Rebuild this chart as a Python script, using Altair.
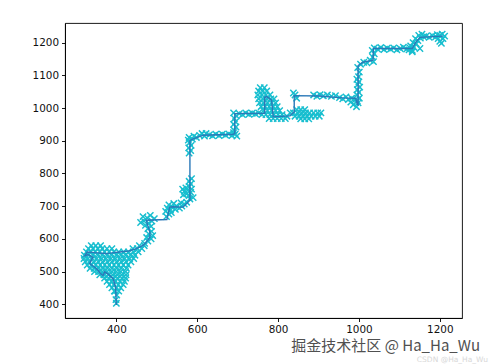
import altair as alt
import pandas as pd

# ---- filtered track (drawn as the line) ----
track_x = [400, 399, 398, 392, 380, 371, 367, 360, 355, 346,
           334, 338, 342, 330, 322, 328, 345, 375, 408, 430,
           450, 466, 474, 483, 483, 478, 474, 525, 532, 540,
           565, 582, 582, 590, 615, 689, 693, 693, 767, 767,
           772, 784, 788, 829, 840, 840, 900, 960, 992, 996,
           998, 998, 1010, 1035, 1036, 1132, 1140, 1151, 1208]
track_y = [398, 430, 453, 478, 492, 499, 488, 495, 504, 514,
           524, 535, 544, 552, 548, 560, 558, 555, 560, 563,
           570, 580, 590, 605, 621, 640, 657, 659, 697, 698,
           697, 718, 901, 906, 917, 920, 922, 983, 984, 1033,
           1035, 1024, 973, 976, 988, 1038, 1037, 1031, 1030, 1012,
           1010, 1130, 1140, 1146, 1182, 1182, 1200, 1216, 1220]

# ---- measurements (x markers) ----
stem_pts = [(400, 403), (399, 414), (401, 428), (397, 440)]

blobA_rows = {
    440: [395, 406],
    450: [389, 400, 411],
    460: [383, 394, 405, 417],
    470: [377, 388, 398, 409, 420],
    480: [371, 381, 392, 403, 414, 423],
    490: [359, 369, 380, 391, 402, 413, 424],
    500: [346, 356, 366, 377, 389, 400, 411, 423],
    510: [335, 345, 356, 367, 378, 389, 401, 412, 425],
    520: [328, 338, 349, 360, 371, 382, 394, 405, 417, 429],
    530: [323, 333, 344, 355, 366, 378, 389, 401, 412, 424, 436],
    540: [320, 330, 341, 352, 364, 375, 387, 398, 410, 421, 433, 443],
    550: [321, 331, 342, 354, 365, 377, 388, 400, 411, 423, 435, 446],
    560: [326, 337, 348, 359, 371, 382, 394, 406, 418, 430, 442, 454],
    570: [331, 342, 354, 365, 377, 389, 441, 452, 463],
    579: [338, 349, 361, 457, 469],
}

tail_pts = [(470, 586), (478, 593), (486, 600), (475, 604), (490, 610),
            (480, 615), (487, 623), (478, 631), (486, 638), (472, 641),
            (480, 648), (468, 655), (488, 654), (476, 664), (466, 668),
            (484, 672), (494, 662), (460, 650)]

c1_pts = [(524, 668), (530, 676), (522, 684), (534, 688), (526, 694),
          (538, 698), (530, 704), (542, 708), (548, 700), (556, 694),
          (562, 700), (568, 706), (574, 712), (560, 710), (546, 690),
          (536, 680)]

c2_pts = [(566, 735), (574, 738), (580, 732), (568, 745), (576, 748),
          (584, 742), (564, 752), (572, 756), (580, 760), (586, 752),
          (584, 768), (580, 776), (586, 784), (582, 722), (590, 726)]

v1_pts = [(580, 862), (584, 870), (579, 878), (585, 886), (581, 894), (578, 902)]

h1_pts = [(580, 910), (588, 905), (592, 914), (598, 910), (606, 916),
          (612, 922), (618, 914), (622, 922), (630, 918), (638, 915),
          (646, 920), (654, 916), (662, 920), (670, 917), (678, 921),
          (686, 916), (694, 920), (698, 914), (690, 925)]

v2_pts = [(691, 932), (696, 942), (690, 950), (695, 958), (692, 968),
          (697, 976), (690, 985)]

h2_pts = [(704, 983), (712, 980), (720, 985), (728, 981), (736, 984),
          (744, 982), (752, 985), (760, 980)]

blobB_rows = {
    1062: [756, 766],
    1052: [752, 762, 772],
    1040: [750, 760, 770, 780],
    1028: [752, 762, 772, 782, 790],
    1016: [754, 764, 774, 784, 794],
    1004: [758, 768, 778, 788, 798],
    992: [764, 774, 784, 794, 804],
    980: [770, 780, 790, 800, 810],
    968: [778, 788, 798, 808, 818],
}

blobC_rows = {
    995: [846, 856, 866],
    985: [830, 838, 848, 858, 868, 878, 888, 898, 906],
    975: [822, 842, 852, 862, 872, 882, 892, 902],
    967: [856, 866, 876],
}

h3_pts = [(842, 1040), (846, 1030), (838, 1046),
          (888, 1040), (896, 1036), (904, 1041), (912, 1037), (922, 1040),
          (932, 1036), (942, 1038), (952, 1032), (960, 1028), (968, 1034),
          (974, 1026), (982, 1030), (990, 1024), (980, 1018), (986, 1010),
          (994, 1004), (998, 1016)]

v3_pts = [(996, 1022), (1001, 1030), (995, 1040), (1000, 1048), (996, 1056),
          (1002, 1064), (997, 1072), (1000, 1080), (995, 1088), (999, 1096),
          (1001, 1110), (997, 1124)]

step_pts = [(1004, 1134), (1012, 1140), (1020, 1138), (1028, 1146),
            (1036, 1142), (1034, 1156), (1038, 1166), (1033, 1176)]

h4_pts = [(1038, 1184), (1046, 1180), (1054, 1185), (1062, 1179), (1070, 1183),
          (1078, 1180), (1086, 1184), (1094, 1178), (1102, 1182), (1110, 1186),
          (1118, 1180), (1126, 1184), (1132, 1176)]

blobD_pts = [(1124, 1178), (1132, 1172), (1136, 1186), (1128, 1190),
             (1142, 1196), (1134, 1200), (1146, 1206), (1140, 1212),
             (1152, 1214), (1148, 1222), (1156, 1226), (1160, 1218),
             (1151, 1182)]

end_pts = [(1166, 1220), (1174, 1216), (1182, 1221), (1190, 1218),
           (1196, 1212), (1200, 1204), (1204, 1198), (1208, 1212),
           (1212, 1220), (1200, 1222), (1194, 1224), (1206, 1226)]

x_ticks = [400, 600, 800, 1000, 1200]
y_ticks = [400, 500, 600, 700, 800, 900, 1000, 1100, 1200]
watermark = "掘金技术社区 @ Ha_Ha_Wu"
watermark2 = "CSDN @Ha_Ha_Wu"

# ---- build tables ----
def rows_to_pts(rows):
    return [(x, y) for y, xs in rows.items() for x in xs]

meas = (stem_pts + rows_to_pts(blobA_rows) + tail_pts + c1_pts + c2_pts
        + v1_pts + h1_pts + v2_pts + h2_pts + rows_to_pts(blobB_rows)
        + rows_to_pts(blobC_rows) + h3_pts + v3_pts + step_pts + h4_pts
        + blobD_pts + end_pts)
meas_df = pd.DataFrame(meas, columns=["x", "y"])
track_df = pd.DataFrame({"i": list(range(len(track_x))), "x": track_x, "y": track_y})

xs = alt.Scale(domain=[273, 1255], nice=False, zero=False)
ys = alt.Scale(domain=[358, 1260], nice=False, zero=False)
xax = alt.Axis(values=x_ticks, title=None, grid=False, format="d")
yax = alt.Axis(values=y_ticks, title=None, grid=False, format="d")

points = alt.Chart(meas_df).mark_point(
    shape="M-1,-1L1,1M-1,1L1,-1", filled=False, size=40,
    strokeWidth=1.45, color="#17becf", opacity=1
).encode(
    x=alt.X("x:Q", scale=xs, axis=xax),
    y=alt.Y("y:Q", scale=ys, axis=yax),
)

line = alt.Chart(track_df).mark_line(
    color="#2b78b8", strokeWidth=1.4
).encode(
    x=alt.X("x:Q", scale=xs, axis=xax),
    y=alt.Y("y:Q", scale=ys, axis=yax),
    order="i:Q",
)

wm = alt.Chart(pd.DataFrame({"t": [watermark]})).mark_text(
    align="right", baseline="alphabetic", font="Noto Sans CJK SC",
    fontSize=15, color="#505050"
).encode(x=alt.value(415), y=alt.value(328), text="t:N")

wm2 = alt.Chart(pd.DataFrame({"t": [watermark2]})).mark_text(
    align="right", baseline="alphabetic", font="DejaVu Sans",
    fontSize=7.5, color="#d8d8d8"
).encode(x=alt.value(423), y=alt.value(339), text="t:N")

chart = alt.layer(points, line, wm2, wm).properties(
    width=397, height=295,
    padding={"left": 65, "top": 23, "right": 28, "bottom": 46},
    autosize="none",
    background="white",
).configure_view(
    stroke="black", strokeWidth=0.9
).configure_axis(
    domainColor="black", domainWidth=0.9,
    tickColor="black", tickWidth=0.9, tickSize=3.5,
    labelFont="DejaVu Sans", labelFontSize=10.4, labelColor="#111",
    labelPadding=3,
)

chart.save("out.html", embed_options={"renderer": "svg", "actions": False})
